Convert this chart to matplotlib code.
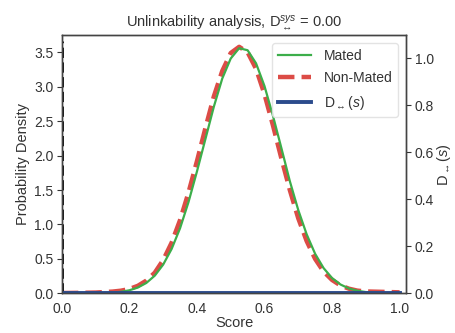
import numpy as np
import matplotlib
matplotlib.use('Agg')
import matplotlib.pyplot as plt

plt.rcParams['font.family'] = ['Liberation Sans', 'DejaVu Sans']
plt.rcParams['mathtext.fontset'] = 'custom'
plt.rcParams['mathtext.rm'] = 'Liberation Sans'
plt.rcParams['mathtext.it'] = 'Liberation Sans:italic'

# Scores (x grid) and densities
score = [0.0, 0.05, 0.1, 0.15, 0.175, 0.2, 0.225, 0.25, 0.275, 0.3, 0.325,
         0.35, 0.375, 0.4, 0.425, 0.45, 0.475, 0.5, 0.525, 0.55, 0.575, 0.6,
         0.625, 0.65, 0.675, 0.7, 0.725, 0.75, 0.775, 0.8, 0.825, 0.85,
         0.875, 0.9, 0.95, 1.0]

mated = [0.0, 0.0004, 0.002, 0.011, 0.023, 0.045, 0.085, 0.151, 0.257, 0.418,
         0.645, 0.946, 1.326, 1.77, 2.24, 2.71, 3.12, 3.41, 3.56, 3.53, 3.34,
         3.01, 2.58, 2.11, 1.63, 1.21, 0.856, 0.574, 0.367, 0.223, 0.129,
         0.071, 0.038, 0.019, 0.004, 0.001]

non_mated = [0.005, 0.008, 0.012, 0.026, 0.039, 0.064, 0.11, 0.185, 0.30,
             0.484, 0.736, 1.065, 1.465, 1.92, 2.40, 2.86, 3.23, 3.49, 3.58,
             3.50, 3.26, 2.89, 2.44, 1.96, 1.50, 1.09, 0.758, 0.50, 0.316,
             0.195, 0.115, 0.068, 0.04, 0.028, 0.022, 0.015]

d_local = [0.0] * len(score)
d_sys = 0.00

fig = plt.figure(figsize=(4.55, 3.33), dpi=100)
ax = fig.add_axes([0.136, 0.119, 0.757, 0.776])
ax2 = ax.twinx()

ax.plot(score, mated, color='#3cae4a', lw=1.6, label='Mated', zorder=3)
ax.plot(score, non_mated, color='#dc4c46', lw=3.2, ls='--',
        label='Non-Mated', zorder=2)
ax.vlines(0.0, 0, max(max(mated), max(non_mated)) * 1.025, color='black',
          lw=2, linestyles='--', zorder=4)
ax2.plot(score, d_local, color='#2b4b8c', lw=2.8,
         label=r'D$_{\leftrightarrow}(s)$')

ax.set_xlim(0, 1.02)
ax.set_ylim(0, max(non_mated) * 1.048)
ax2.set_ylim(0, 1.1)

ax.set_xticks([0.0, 0.2, 0.4, 0.6, 0.8, 1.0])
ax.set_yticks([0.0, 0.5, 1.0, 1.5, 2.0, 2.5, 3.0, 3.5])
ax2.set_yticks([0.0, 0.2, 0.4, 0.6, 0.8, 1.0])

txt = '#333333'
for a in (ax, ax2):
    for s in a.spines.values():
        s.set_color('#444444')
        s.set_linewidth(1.0)
    a.tick_params(colors=txt, labelsize=10, length=3.5, width=0.8, pad=2.5)
ax.tick_params(axis='x', length=0, pad=6)

ax.set_xlabel('Score', fontsize=10.5, color=txt, labelpad=0)
ax.set_ylabel('Probability Density', fontsize=10.5, color=txt, labelpad=3)
ax2.set_ylabel(r'D$_{\leftrightarrow}(s)$', fontsize=10.5, color=txt,
               labelpad=1)
ax.set_title(r'Unlinkability analysis, D$_{\leftrightarrow}^{sys}$ = %.2f' % d_sys,
             fontsize=10.5, color=txt, pad=6)

h1, l1 = ax.get_legend_handles_labels()
h2, l2 = ax2.get_legend_handles_labels()
leg = ax2.legend(h1 + h2, l1 + l2, loc='upper right', fontsize=10,
                 handlelength=2.4, handletextpad=0.9, frameon=True,
                 fancybox=True, borderaxespad=0.6, labelspacing=0.6)
leg.get_frame().set_edgecolor('#dddddd')
for t in leg.get_texts():
    t.set_color(txt)

fig.savefig('out.png', dpi=100)
